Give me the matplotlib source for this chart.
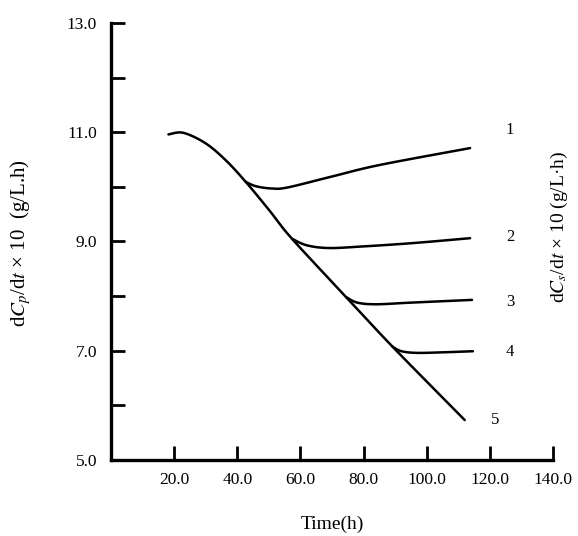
import matplotlib
matplotlib.use("Agg")
import matplotlib.pyplot as plt
import numpy as np

# --------------------------
# Data
# --------------------------
x5 = [18.2, 22.9, 29.9, 36.3, 42.7, 50, 57.3, 74.5, 89.2, 112]
y5 = [10.96, 10.99, 10.80, 10.49, 10.09, 9.58, 9.05, 7.98, 7.07, 5.73]

x1 = [42.7, 46, 51, 56, 70, 85, 113.7]
y1 = [10.09, 10.01, 9.97, 9.99, 10.19, 10.40, 10.71]

x2 = [57.3, 62, 69, 80, 95.5, 113.7]
y2 = [9.05, 8.93, 8.88, 8.91, 8.97, 9.06]

x3 = [74.5, 78, 84, 95, 114.3]
y3 = [7.98, 7.88, 7.85, 7.88, 7.93]

x4 = [89.2, 92, 96.8, 105, 114.6]
y4 = [7.07, 6.99, 6.96, 6.97, 6.99]

curve_labels = ["1", "2", "3", "4", "5"]
label_x = [126.3, 126.3, 126.3, 126.3, 121.5]
label_y = [11.04, 9.08, 7.89, 6.97, 5.73]

xticks = [20, 40, 60, 80, 100, 120, 140]
xtick_labels = ["20.0", "40.0", "60.0", "80.0", "100.0", "120.0", "140.0"]
yticks = [5, 6, 7, 8, 9, 10, 11, 12, 13]
ytick_labels = ["5.0", "", "7.0", "", "9.0", "", "11.0", "", "13.0"]


def smooth(xs, ys, n=20):
    # Catmull-Rom path through the read points, just for drawing
    p = np.column_stack([xs, ys]).astype(float)
    p = np.vstack([p[0], p, p[-1]])
    out = []
    t = np.linspace(0, 1, n, endpoint=False)[:, None]
    for i in range(1, len(p) - 2):
        p0, p1, p2, p3 = p[i - 1], p[i], p[i + 1], p[i + 2]
        seg = 0.5 * ((2 * p1) + (-p0 + p2) * t
                     + (2 * p0 - 5 * p1 + 4 * p2 - p3) * t ** 2
                     + (-p0 + 3 * p1 - 3 * p2 + p3) * t ** 3)
        out.append(seg)
    out.append(p[-2][None, :])
    out = np.vstack(out)
    return out[:, 0], out[:, 1]


# --------------------------
# Plot
# --------------------------
plt.rcParams['font.family'] = ['Liberation Serif', 'DejaVu Serif']
plt.rcParams['mathtext.fontset'] = 'stix'

fig = plt.figure(figsize=(5.78, 5.36), dpi=100)
ax = fig.add_axes([0.192, 0.142, 0.765, 0.815])

for xs, ys in [(x5, y5), (x1, y1), (x2, y2), (x3, y3), (x4, y4)]:
    sx, sy = smooth(xs, ys)
    ax.plot(sx, sy, color='black', linewidth=1.8, solid_capstyle='round')

for lab, lx, ly in zip(curve_labels, label_x, label_y):
    ax.text(lx, ly, lab, fontsize=12, ha='center', va='center', clip_on=False)

ax.set_xlim(0, 140)
ax.set_ylim(5, 13)
ax.set_xticks(xticks)
ax.set_xticklabels(xtick_labels)
ax.set_yticks(yticks)
ax.set_yticklabels(ytick_labels)

for side in ['top', 'right']:
    ax.spines[side].set_visible(False)
for side in ['left', 'bottom']:
    ax.spines[side].set_linewidth(2.4)

ax.tick_params(direction='in', length=10, width=2, labelsize=12.5)
ax.tick_params(axis='y', pad=10)
ax.tick_params(axis='x', pad=9)

ax.set_xlabel('Time(h)', fontsize=14, labelpad=20)
fig.text(0.036, 0.547, r'd$C_p$/d$t$ × 10  (g/L.h)', rotation=90,
         ha='center', va='center', fontsize=15)
fig.text(0.968, 0.577, r'd$C_s$/d$t$ × 10 (g/L·h)', rotation=90,
         ha='center', va='center', fontsize=14)

fig.savefig('out.png', dpi=100)
